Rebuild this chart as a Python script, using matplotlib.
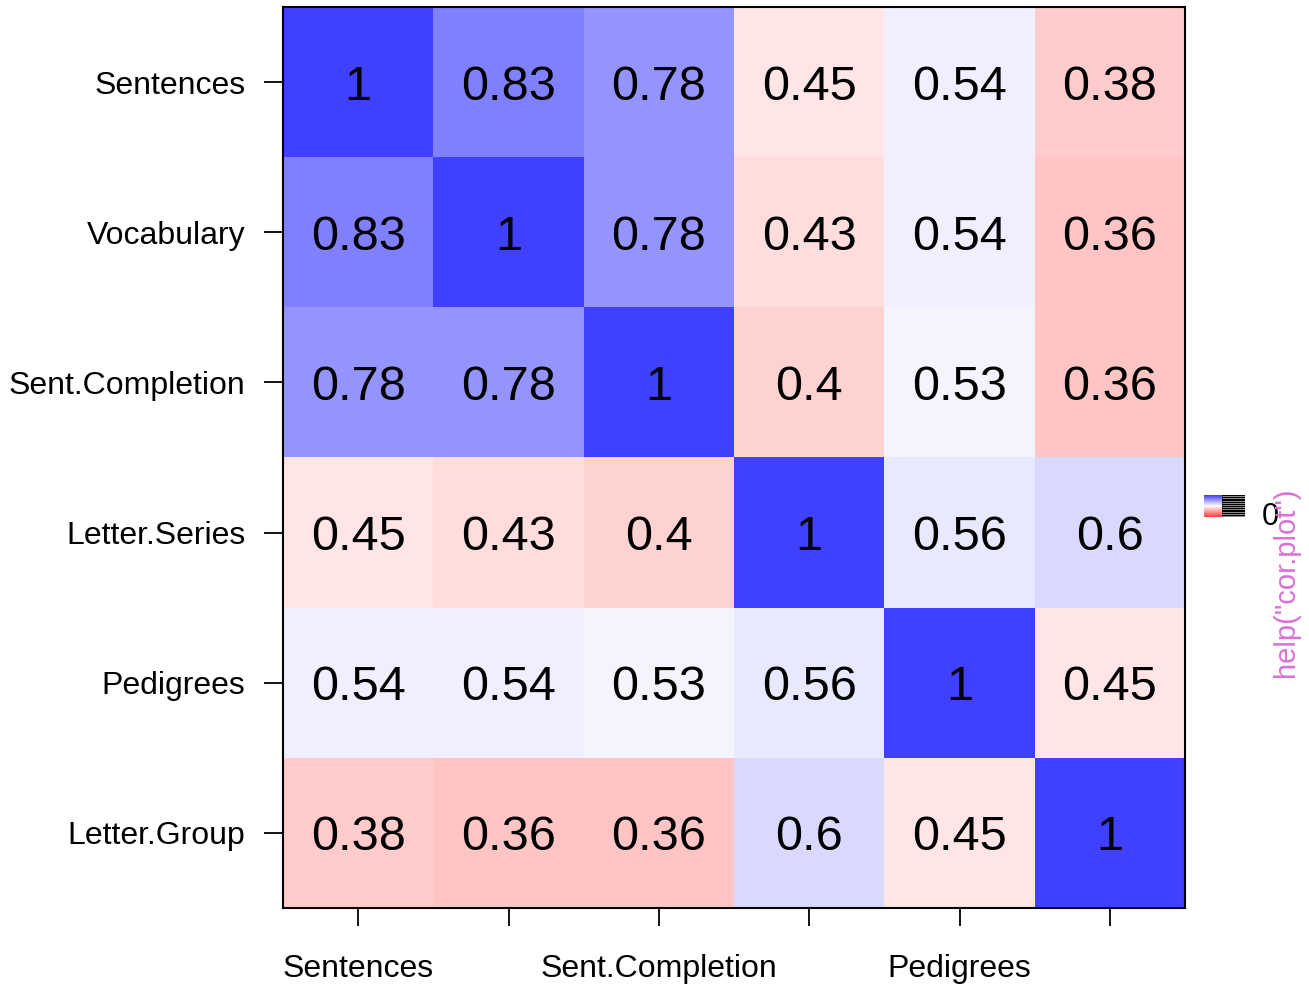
import numpy as np
import matplotlib
matplotlib.use("Agg")
from matplotlib import pyplot as plt
from matplotlib.colors import LinearSegmentedColormap

plt.rcParams['font.family'] = ['Liberation Sans', 'DejaVu Sans']

variables = ["Sentences", "Vocabulary", "Sent.Completion",
             "Letter.Series", "Pedigrees", "Letter.Group"]
# only every other x label is drawn (R drops overlapping labels)
x_labels = ["Sentences", "", "Sent.Completion", "", "Pedigrees", ""]

corr = np.array([
    [1.00, 0.83, 0.78, 0.45, 0.54, 0.38],
    [0.83, 1.00, 0.78, 0.43, 0.54, 0.36],
    [0.78, 0.78, 1.00, 0.40, 0.53, 0.36],
    [0.45, 0.43, 0.40, 1.00, 0.56, 0.60],
    [0.54, 0.54, 0.53, 0.56, 1.00, 0.45],
    [0.38, 0.36, 0.36, 0.60, 0.45, 1.00],
])

cmap = LinearSegmentedColormap.from_list(
    "rwb", [(0.0, (1.0, 0.25, 0.25)), (0.45, (1.0, 0.895, 0.895)),
            (0.5, (1.0, 1.0, 1.0)), (1.0, (0.25, 0.25, 1.0))], N=256)

fig = plt.figure(figsize=(13.09, 9.85), dpi=100)
ax = fig.add_axes([0.2162, 0.0782, 0.6891, 0.9147])

n = len(variables)
ax.pcolormesh(np.arange(n + 1), np.arange(n + 1), corr, cmap=cmap,
              vmin=0, vmax=1, shading='flat')
ax.set_xlim(0, n)
ax.set_ylim(n, 0)

for i in range(n):
    for j in range(n):
        ax.text(j + 0.5, i + 0.5, f"{corr[i, j]:g}", ha='center',
                va='center_baseline', fontsize=35, color='black')

ax.set_xticks(np.arange(n) + 0.5)
ax.set_xticklabels(x_labels, fontsize=23)
ax.set_yticks(np.arange(n) + 0.5)
ax.set_yticklabels(variables, fontsize=23)
ax.tick_params(axis='x', length=13, width=1.3, pad=20)
ax.tick_params(axis='y', length=14, width=1.3, pad=13)
for sp in ax.spines.values():
    sp.set_linewidth(1.5)

# tiny color legend on the right
cax = fig.add_axes([1204 / 1309, 1 - 517 / 985, 18 / 1309, 22 / 985])
grad = np.linspace(1, 0, 50).reshape(-1, 1)
cax.imshow(grad, cmap=cmap, aspect='auto', vmin=0, vmax=1)
cax.set_axis_off()

bax = fig.add_axes([1222 / 1309, 1 - 517 / 985, 23 / 1309, 22 / 985])
bax.set_facecolor('black')
bax.hlines(np.linspace(0.05, 0.95, 10), 0, 1, color='white', linewidth=0.4)
bax.set_xlim(0, 1)
bax.set_ylim(0, 1)
bax.set_xticks([])
bax.set_yticks([])
for sp in bax.spines.values():
    sp.set_visible(False)

fig.text(1262 / 1309, 1 - 517 / 985, "0", fontsize=22, ha='left', va='center')
fig.text(1286 / 1309, 1 - 582 / 985, 'help("cor.plot")', fontsize=21,
         rotation=90, color='#DA70D6', ha='center', va='center')

fig.savefig("out.png", dpi=100)
